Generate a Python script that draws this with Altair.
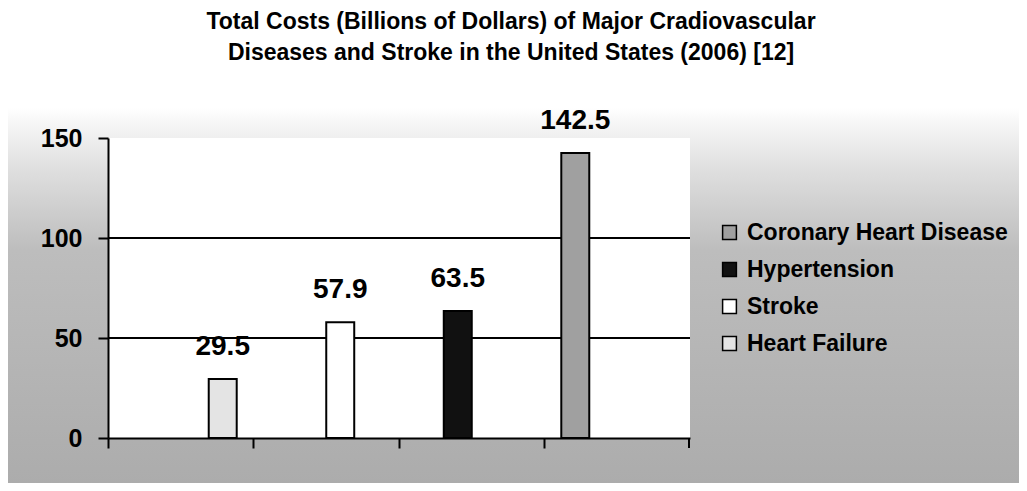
import altair as alt
import pandas as pd

# ---- data ----
CATEGORIES = ["1", "2", "3", "4"]
SERIES = ["Heart Failure", "Stroke", "Hypertension", "Coronary Heart Disease"]
VALUES = [29.5, 57.9, 63.5, 142.5]
LEGEND_ORDER = ["Coronary Heart Disease", "Hypertension", "Stroke", "Heart Failure"]
LEGEND_COLORS = ["#a0a0a0", "#111111", "#ffffff", "#e4e4e4"]
Y_TICKS = [0, 50, 100, 150]
GRID_VALUES = [50, 100]
TITLE = ["Total Costs (Billions of Dollars) of Major Cradiovascular",
         "Diseases and Stroke in the United States (2006) [12]"]

df = pd.DataFrame({"cat": CATEGORIES, "series": SERIES, "value": VALUES})
grid_df = pd.DataFrame({"v": GRID_VALUES})
one = pd.DataFrame({"k": [0]})

W, H = 582, 300
PAD = {"left": 100, "top": 130, "right": 329, "bottom": 45}
FONT = "Liberation Sans"
BG_TOP = -30  # top of the shaded backdrop, relative to the plot area

x_enc = alt.X("cat:N", sort=CATEGORIES,
              scale=alt.Scale(paddingInner=0, paddingOuter=0),
              axis=alt.Axis(title=None, labels=False, bandPosition=0,
                            tickSize=10, tickWidth=2, tickColor="black",
                            domainColor="black", domainWidth=2, grid=False,
                            zindex=1))
xoff = alt.XOffset("series:N", sort=LEGEND_ORDER,
                   scale=alt.Scale(domain=LEGEND_ORDER, paddingInner=0, paddingOuter=0.6))
y_enc = alt.Y("value:Q",
              scale=alt.Scale(domain=[0, 150], nice=False),
              axis=alt.Axis(title=None, values=Y_TICKS, grid=False,
                            tickSize=10, tickWidth=2, tickColor="black",
                            domainColor="black", domainWidth=2,
                            labelFont=FONT, labelFontSize=25, labelFontWeight="bold",
                            labelColor="black", labelPadding=16, zindex=1))

gradient = {
    "gradient": "linear", "x1": 0, "y1": 0, "x2": 0, "y2": 1,
    "stops": [
        {"offset": 0.0, "color": "#ffffff"},
        {"offset": 0.04, "color": "#f6f6f6"},
        {"offset": 0.17, "color": "#dedede"},
        {"offset": 0.38, "color": "#bdbdbd"},
        {"offset": 1.0, "color": "#acacac"},
    ],
}

bg = alt.Chart(one).mark_rect(fill=gradient).encode(
    x=alt.value(-PAD["left"]), x2=alt.value(W + PAD["right"]),
    y=alt.value(BG_TOP), y2=alt.value(H + PAD["bottom"]))

plot_bg = alt.Chart(one).mark_rect(fill="white").encode(
    x=alt.value(0), x2=alt.value(W), y=alt.value(0), y2=alt.value(H))

grid = alt.Chart(grid_df).mark_rule(color="black", strokeWidth=2).encode(
    y=alt.Y("v:Q", scale=alt.Scale(domain=[0, 150], nice=False)))

bars = alt.Chart(df).mark_bar(stroke="black", strokeWidth=2).encode(
    x=x_enc, xOffset=xoff, y=y_enc,
    color=alt.Color("series:N",
                    scale=alt.Scale(domain=LEGEND_ORDER, range=LEGEND_COLORS),
                    legend=alt.Legend(title=None, orient="none",
                                      legendX=W + 28, legendY=83,
                                      symbolType="square", symbolSize=190,
                                      symbolStrokeColor="black", symbolStrokeWidth=1.5,
                                      labelFont=FONT, labelFontSize=23,
                                      labelFontWeight="bold", labelColor="black",
                                      labelOffset=6, rowPadding=13,
                                      labelLimit=400)))

labels = alt.Chart(df).mark_text(font=FONT, fontSize=28, fontWeight="bold",
                                 color="black", baseline="bottom", dy=-18).encode(
    x=alt.X("cat:N", sort=CATEGORIES), xOffset=xoff,
    y=alt.Y("value:Q"), text=alt.Text("value:Q", format=".1f"))

end_tick = alt.Chart(one).mark_rule(color="black", strokeWidth=2).encode(
    x=alt.value(W - 1), y=alt.value(H), y2=alt.value(H + 10))

chart = alt.layer(bg, plot_bg, grid, bars, labels, end_tick).properties(
    width=W, height=H,
    padding=PAD,
    autosize=alt.AutoSizeParams(type="none"),
    title=alt.TitleParams(text=TITLE, font=FONT, fontSize=23, fontWeight="bold",
                          color="black", anchor="middle", dx=112, lineHeight=31,
                          offset=42),
).configure_view(stroke=None)

chart.save("out.html", embed_options={"renderer": "svg", "actions": False})
